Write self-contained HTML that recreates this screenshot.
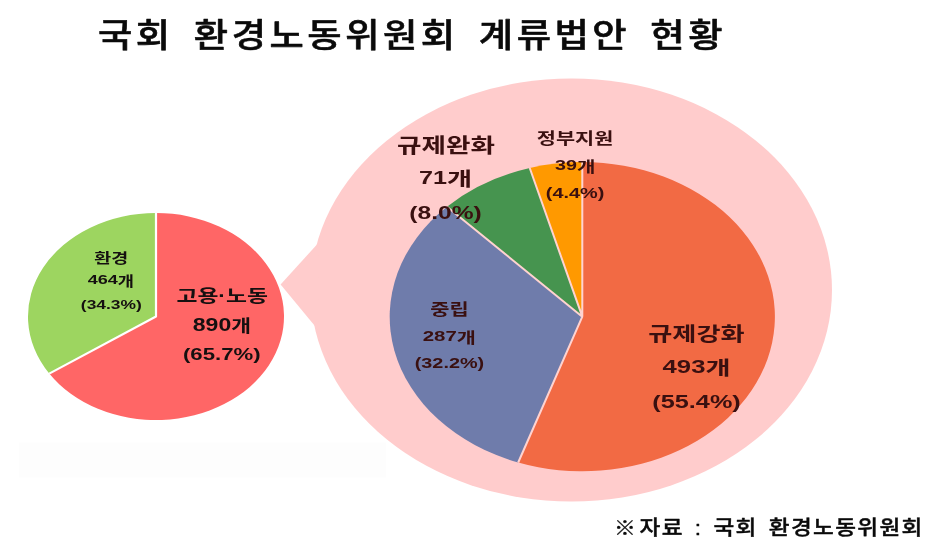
<!DOCTYPE html>
<html lang="ko">
<head>
<meta charset="utf-8">
<title>국회 환경노동위원회 계류법안 현황</title>
<style>
html,body{margin:0;padding:0;background:#fff;}
body{width:929px;height:553px;overflow:hidden;position:relative;}
svg{position:absolute;left:0;top:0;display:block;}
.k{font-family:"Liberation Sans","Noto Sans CJK KR",sans-serif;}
.d{font-family:"Liberation Sans","Noto Sans CJK KR",sans-serif;}
.t{font-family:"Liberation Sans","Noto Sans CJK KR",sans-serif;}
</style>
</head>
<body>
<svg width="929" height="553" viewBox="0 0 929 553">
<rect x="0" y="0" width="929" height="553" fill="#ffffff"/>
<rect x="19" y="442.5" width="367" height="35" fill="#fdfdfd"/>
<g style="filter:blur(0.45px)">
<g fill="#ffcccc">
<ellipse cx="571.3" cy="290" rx="260.7" ry="211.5"/>
<polygon points="280.6,284.6 319.0,242.2 318.0,329.7"/>
</g>
<path d="M156.00,316.50 L156.00,213.00 A128,103.5 0 1 1 49.24,373.60 Z" fill="#ff6666"/>
<path d="M156.00,316.50 L49.24,373.60 A128,103.5 0 0 1 156.00,213.00 Z" fill="#9dd560"/>
<polyline points="156.00,213.00 156,316.5 49.24,373.60" fill="none" stroke="#ffffff" stroke-width="2.2" stroke-linejoin="round"/>
<path d="M582.30,316.70 L582.30,162.10 A192.6,154.6 0 1 1 518.20,462.49 Z" fill="#f26a44"/>
<path d="M582.30,316.70 L518.20,462.49 A192.6,154.6 0 0 1 446.97,206.70 Z" fill="#6f7cab"/>
<path d="M582.30,316.70 L446.97,206.70 A192.6,154.6 0 0 1 529.73,167.97 Z" fill="#46944f"/>
<path d="M582.30,316.70 L529.73,167.97 A192.6,154.6 0 0 1 582.30,162.10 Z" fill="#ff9900"/>
<path d="M582.3,316.7 L582.30,162.10 M582.3,316.7 L518.20,462.49 M582.3,316.7 L446.97,206.70 M582.3,316.7 L529.73,167.97" fill="none" stroke="#ffd3d0" stroke-width="2.0" stroke-linecap="butt"/>
<text class="k" transform="translate(94.35,262.74) scale(1.318,1)" x="0" y="0" font-size="13.98" font-weight="700" fill="#151010" xml:space="preserve">환경</text>
<text class="k" transform="translate(87.64,284.20) scale(1.331,1)" x="0" y="0" font-size="13.56" font-weight="700" fill="#151010" xml:space="preserve">464<tspan font-size="13.28" dy="1.53">개</tspan></text>
<text class="k" transform="translate(80.83,309.10) scale(1.286,1)" x="0" y="0" font-size="13.56" font-weight="700" fill="#151010" xml:space="preserve">(34.3%)</text>
<text class="k" transform="translate(176.39,301.83) scale(1.304,1)" x="0" y="0" font-size="17.50" font-weight="700" fill="#151010" xml:space="preserve">고용·노동</text>
<text class="k" transform="translate(192.81,330.50) scale(1.293,1)" x="0" y="0" font-size="17.81" font-weight="700" fill="#151010" xml:space="preserve">890<tspan font-size="16.63" dy="1.91">개</tspan></text>
<text class="k" transform="translate(182.99,360.40) scale(1.275,1)" x="0" y="0" font-size="17.40" font-weight="700" fill="#151010" xml:space="preserve">(65.7%)</text>
<text class="k" transform="translate(648.25,340.61) scale(1.317,1)" x="0" y="0" font-size="19.89" font-weight="700" fill="#3a1010" xml:space="preserve">규제강화</text>
<text class="k" transform="translate(662.59,373.20) scale(1.443,1)" x="0" y="0" font-size="17.81" font-weight="700" fill="#3a1010" xml:space="preserve">493<tspan font-size="18.90" dy="2.17">개</tspan></text>
<text class="k" transform="translate(652.34,408.00) scale(1.408,1)" x="0" y="0" font-size="17.95" font-weight="700" fill="#3a1010" xml:space="preserve">(55.4%)</text>
<text class="k" transform="translate(430.26,315.29) scale(1.331,1)" x="0" y="0" font-size="15.70" font-weight="700" fill="#3a1010" xml:space="preserve">중립</text>
<text class="k" transform="translate(422.69,340.90) scale(1.395,1)" x="0" y="0" font-size="14.66" font-weight="700" fill="#3a1010" xml:space="preserve">287<tspan font-size="14.91" dy="1.72">개</tspan></text>
<text class="k" transform="translate(414.71,368.10) scale(1.354,1)" x="0" y="0" font-size="14.66" font-weight="700" fill="#3a1010" xml:space="preserve">(32.2%)</text>
<text class="k" transform="translate(396.94,152.55) scale(1.296,1)" x="0" y="0" font-size="20.54" font-weight="700" fill="#3a1010" xml:space="preserve">규제완화</text>
<text class="k" transform="translate(418.99,183.90) scale(1.404,1)" x="0" y="0" font-size="17.95" font-weight="700" fill="#3a1010" xml:space="preserve">71<tspan font-size="19.51" dy="2.24">개</tspan></text>
<text class="k" transform="translate(409.27,218.70) scale(1.371,1)" x="0" y="0" font-size="17.95" font-weight="700" fill="#3a1010" xml:space="preserve">(8.0%)</text>
<text class="k" transform="translate(536.77,144.39) scale(1.328,1)" x="0" y="0" font-size="15.70" font-weight="700" fill="#3a1010" xml:space="preserve">정부지원</text>
<text class="k" transform="translate(555.11,169.90) scale(1.347,1)" x="0" y="0" font-size="14.66" font-weight="700" fill="#3a1010" xml:space="preserve">39<tspan font-size="14.91" dy="1.72">개</tspan></text>
<text class="k" transform="translate(545.81,197.60) scale(1.345,1)" x="0" y="0" font-size="14.79" font-weight="700" fill="#3a1010" xml:space="preserve">(4.4%)</text>
</g>
<text class="t" transform="translate(98.00,47.00) scale(1.13,1)" x="0" y="0" font-size="33.00" font-weight="500" fill="#0a0a0a" letter-spacing="3.12" word-spacing="5.6" stroke="#0a0a0a" stroke-width="0.6" stroke-linejoin="round" xml:space="preserve">국회 환경노동위원회 계류법안 현황</text>
<text class="t" transform="translate(614.00,535.00) scale(1.15,1)" x="0" y="0" font-size="19.00" font-weight="500" fill="#0a0a0a" stroke="#0a0a0a" stroke-width="0.3" stroke-linejoin="round" xml:space="preserve">※</text>
<text class="t" transform="translate(639.50,535.00) scale(1.13,1)" x="0" y="0" font-size="20.00" font-weight="500" fill="#0a0a0a" letter-spacing="1.2" word-spacing="3.0" stroke="#0a0a0a" stroke-width="0.4" stroke-linejoin="round" xml:space="preserve">자료 : 국회 환경노동위원회</text>
</svg>
</body>
</html>
